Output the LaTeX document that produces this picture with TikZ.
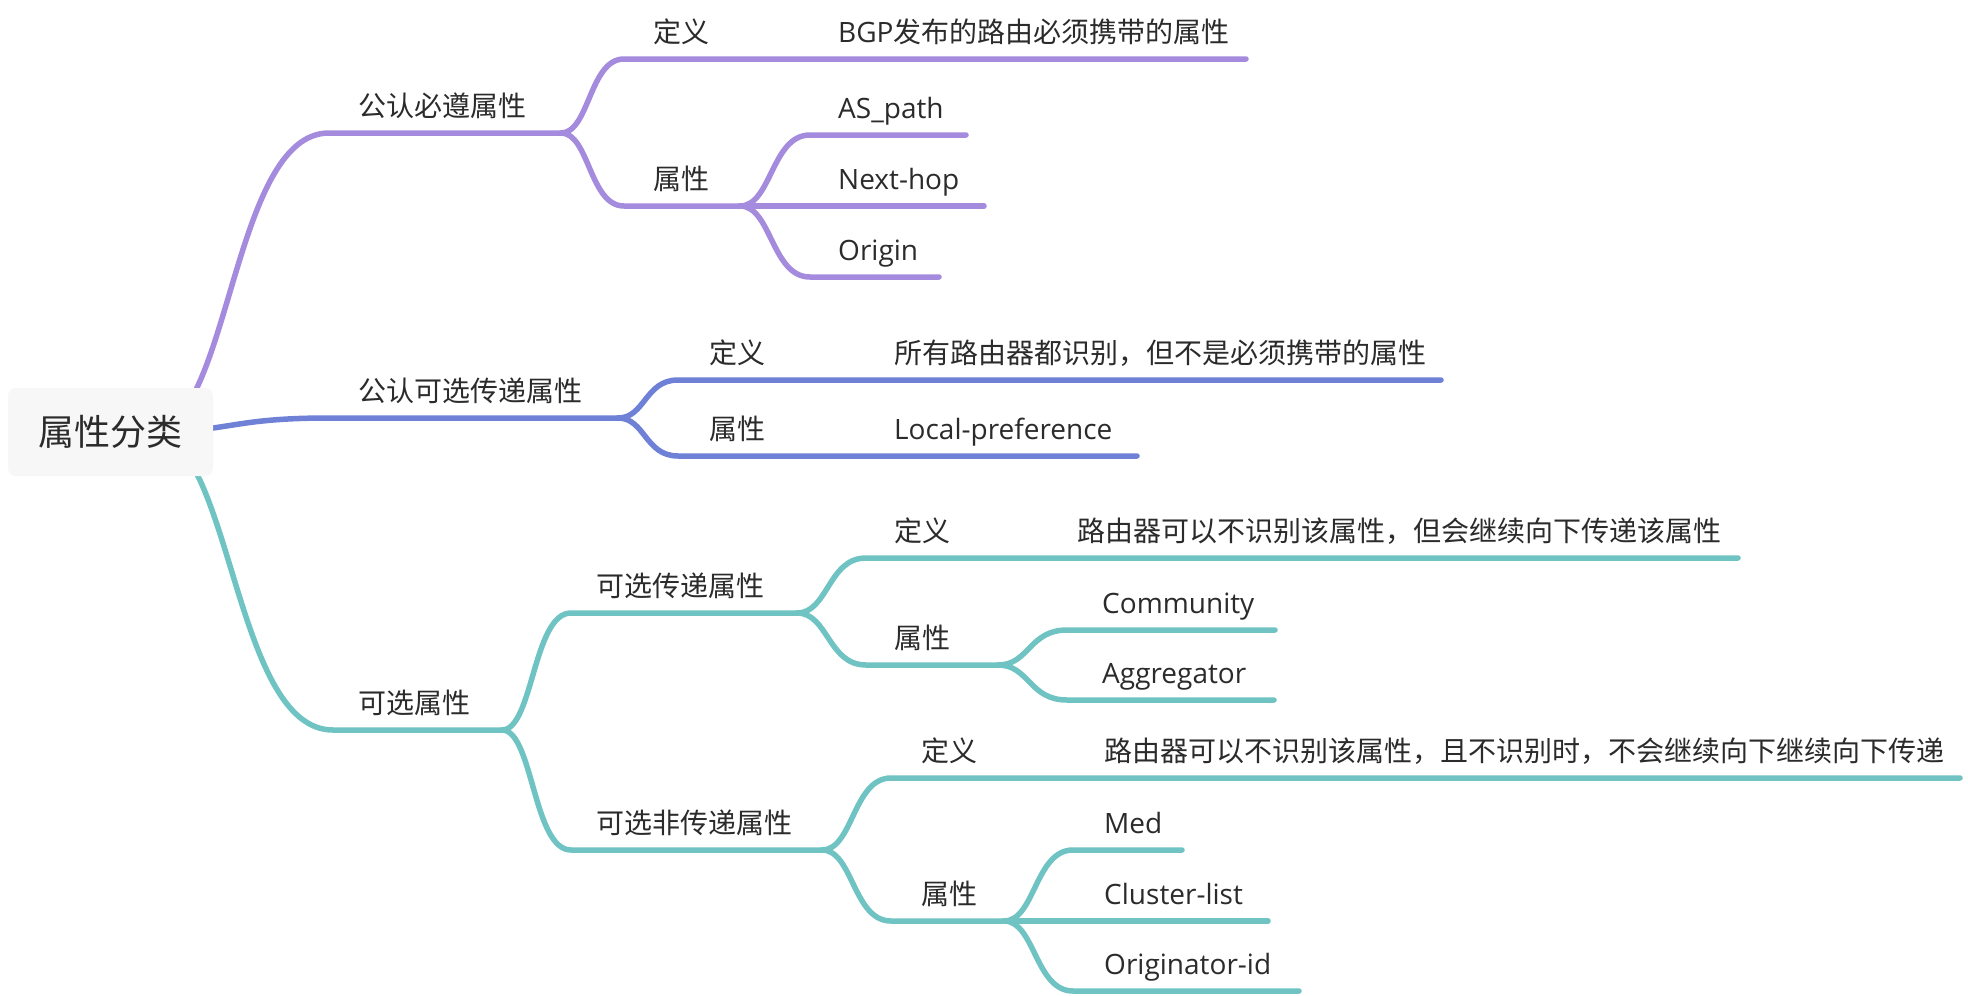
\documentclass[tikz,border=0pt]{standalone}
\usepackage{fontspec}
\setmainfont{Noto Sans CJK SC}
\newfontfamily\lat{Open Sans}
\usetikzlibrary{calc}
\definecolor{cp}{HTML}{A48BDD}
\definecolor{cb}{HTML}{6E81D7}
\definecolor{ct}{HTML}{70C3C3}
\definecolor{ctext}{HTML}{2B2B2B}
\definecolor{rootfill}{HTML}{F7F7F7}
\begin{document}
\begin{tikzpicture}[x=1pt,y=-1pt,
  sc/.style={to path={let \p1=(\tikztostart), \p2=(\tikztotarget) in
     .. controls ({0.55*\x1+0.45*\x2},\y1) and ({0.55*\x1+0.45*\x2},\y2) .. (\tikztotarget)}},
  br/.style={line width=5.5pt, line cap=round, line join=round},
  lbl/.style={anchor=base west, inner sep=0pt, text=ctext, font=\fontsize{28}{34}\selectfont},
  llbl/.style={lbl, font=\fontsize{28}{34}\selectfont\lat},
  rootbox/.style={fill=rootfill, rounded corners=8pt, minimum width=205pt, minimum height=88pt,
     inner sep=0pt, text=ctext, font=\fontsize{36}{42}\selectfont},
]
\useasboundingbox (0,0) rectangle (1968,996);
\fill[white] (0,0) rectangle (1968,996);

% ---------- coordinates ----------
\coordinate (rs) at (150,432);
% purple
\coordinate (pA) at (329,133);   \coordinate (pF) at (561,133);
\coordinate (pDs) at (624,59);   \coordinate (pDe) at (1246,59);
\coordinate (pPs) at (624,206);  \coordinate (pPF) at (740,206);
\coordinate (pASs) at (810,135); \coordinate (pASe) at (966,135);
\coordinate (pNHe) at (984,206);
\coordinate (pORs) at (810,277); \coordinate (pORe) at (939,277);
% blue
\coordinate (bA) at (329,418);   \coordinate (bF) at (618,418);
\coordinate (bDs) at (678,380);  \coordinate (bDe) at (1441,380);
\coordinate (bPs) at (678,456);  \coordinate (bPe) at (1137,456);
% teal
\coordinate (tA) at (333,730);   \coordinate (tF) at (502,730);
\coordinate (t1s) at (571,613);  \coordinate (t1F) at (797,613);
\coordinate (t1Ds) at (866,558); \coordinate (t1De) at (1738,558);
\coordinate (t1Ps) at (866,665); \coordinate (t1PF) at (998,665);
\coordinate (tCs) at (1067,630); \coordinate (tCe) at (1275,630);
\coordinate (tAgs) at (1067,700);\coordinate (tAge) at (1274,700);
\coordinate (t2s) at (571,850);  \coordinate (t2F) at (822,850);
\coordinate (t2Ds) at (891,778); \coordinate (t2De) at (1960,778);
\coordinate (t2Ps) at (891,921); \coordinate (t2PF) at (1004,921);
\coordinate (tMs) at (1073,850); \coordinate (tMe) at (1182,850);
\coordinate (tCLe) at (1268,921);
\coordinate (tOs) at (1073,991); \coordinate (tOe) at (1299,991);

% ---------- purple branch ----------
\draw[br,cp] (rs) to[sc] (pA) -- (pF);
\draw[br,cp] (pF) to[sc] (pDs) -- (pDe);
\draw[br,cp] (pF) to[sc] (pPs) -- (pPF);
\draw[br,cp] (pPF) to[sc] (pASs) -- (pASe);
\draw[br,cp] (pPF) -- (pNHe);
\draw[br,cp] (pPF) to[sc] (pORs) -- (pORe);

% ---------- blue branch ----------
\draw[br,cb] (rs) to[sc] (bA) -- (bF);
\draw[br,cb] (bF) to[sc] (bDs) -- (bDe);
\draw[br,cb] (bF) to[sc] (bPs) -- (bPe);

% ---------- teal branch ----------
\draw[br,ct] (rs) to[sc] (tA) -- (tF);
\draw[br,ct] (tF) to[sc] (t1s) -- (t1F);
\draw[br,ct] (t1F) to[sc] (t1Ds) -- (t1De);
\draw[br,ct] (t1F) to[sc] (t1Ps) -- (t1PF);
\draw[br,ct] (t1PF) to[sc] (tCs) -- (tCe);
\draw[br,ct] (t1PF) to[sc] (tAgs) -- (tAge);
\draw[br,ct] (tF) to[sc] (t2s) -- (t2F);
\draw[br,ct] (t2F) to[sc] (t2Ds) -- (t2De);
\draw[br,ct] (t2F) to[sc] (t2Ps) -- (t2PF);
\draw[br,ct] (t2PF) to[sc] (tMs) -- (tMe);
\draw[br,ct] (t2PF) -- (tCLe);
\draw[br,ct] (t2PF) to[sc] (tOs) -- (tOe);

% ---------- root ----------
\node[rootbox] (root) at (110.5,432) {属性分类};

% ---------- labels ----------
\node[lbl] (n1) at (358,116) {公认必遵属性};
\node[lbl] (n1d) at (653,42) {定义};
\node[lbl] (n1dt) at (838,42) {{\lat BGP}发布的路由必须携带的属性};
\node[lbl] (n1p) at (653,189) {属性};
\node[llbl] (n1as) at (838,118) {AS\_path};
\node[llbl] (n1nh) at (838,189) {Next-hop};
\node[llbl] (n1or) at (838,260) {Origin};

\node[lbl] (n2) at (358,401) {公认可选传递属性};
\node[lbl] (n2d) at (709,363) {定义};
\node[lbl] (n2dt) at (894,363) {所有路由器都识别，但不是必须携带的属性};
\node[lbl] (n2p) at (709,439) {属性};
\node[llbl] (n2lp) at (894,439) {Local-preference};

\node[lbl] (n3) at (358,713) {可选属性};
\node[lbl] (n31) at (596,596) {可选传递属性};
\node[lbl] (n31d) at (894,541) {定义};
\node[lbl] (n31dt) at (1077,541) {路由器可以不识别该属性，但会继续向下传递该属性};
\node[lbl] (n31p) at (894,648) {属性};
\node[llbl] (n31c) at (1102,613) {Community};
\node[llbl] (n31a) at (1102,683) {Aggregator};
\node[lbl] (n32) at (596,833) {可选非传递属性};
\node[lbl] (n32d) at (921,761) {定义};
\node[lbl] (n32dt) at (1104,761) {路由器可以不识别该属性，且不识别时，不会继续向下继续向下传递};
\node[lbl] (n32p) at (921,904) {属性};
\node[llbl] (n32m) at (1104,833) {Med};
\node[llbl] (n32c) at (1104,904) {Cluster-list};
\node[llbl] (n32o) at (1104,974) {Originator-id};
\end{tikzpicture}
\end{document}
